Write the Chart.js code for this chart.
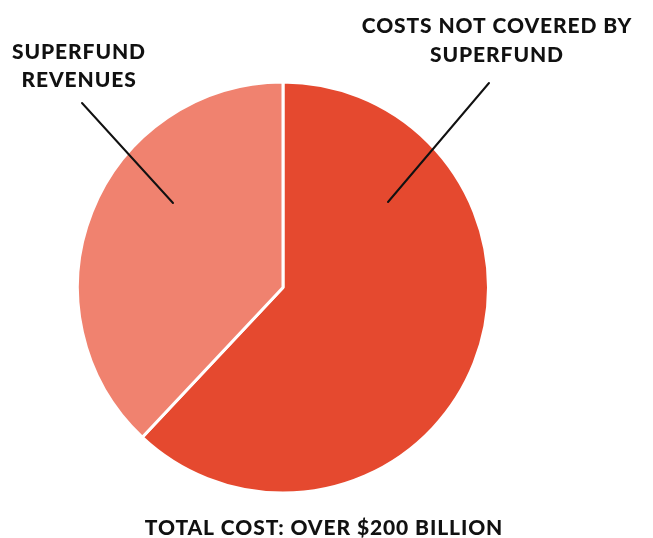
<!DOCTYPE html>
<html>
<head>
<meta charset="utf-8">
<script src="https://cdn.jsdelivr.net/npm/chart.js@4"></script>
<style>
    html, body { margin: 0; padding: 0; background: #ffffff; }
    #wrap { width: 653px; height: 538px; position: relative; }
</style>
</head>
<body>
<div id="wrap"><canvas id="pie"></canvas></div>
<script>
// share of total cost (percent)
const categories = ['Costs not covered by Superfund', 'Superfund revenues'];
const shares = [62, 38];
const sliceColors = ['#E5492F', '#F0826F'];

// annotation text
const leftLabel = ['SUPERFUND', 'REVENUES'];
const rightLabel = ['COSTS NOT COVERED BY', 'SUPERFUND'];
const footerText = 'TOTAL COST: OVER $200 BILLION';

const labelFont = '900 21px Lato, "Open Sans", sans-serif';
const inkColor = '#111111';

// leader lines + callout text drawn on top of the pie
const calloutPlugin = {
    id: 'callouts',
    afterDraw(chart) {
        const ctx = chart.ctx;
        ctx.save();
        ctx.fillStyle = inkColor;
        ctx.font = labelFont;
        ctx.letterSpacing = '0.9px';
        ctx.textAlign = 'center';
        ctx.textBaseline = 'alphabetic';

        leftLabel.forEach((line, i) => ctx.fillText(line, 79, 59 + i * 28));
        rightLabel.forEach((line, i) => ctx.fillText(line, 497, 33 + i * 29));
        ctx.fillText(footerText, 324, 535);

        ctx.strokeStyle = inkColor;
        ctx.lineWidth = 2;
        ctx.lineCap = 'round';
        ctx.beginPath();
        ctx.moveTo(82, 103);
        ctx.lineTo(173, 203);
        ctx.moveTo(489, 83);
        ctx.lineTo(388, 202);
        ctx.stroke();
        ctx.restore();
    }
};

const ctx = document.getElementById('pie').getContext('2d');
new Chart(ctx, {
    type: 'pie',
    data: {
        labels: categories,
        datasets: [{
            data: shares,
            backgroundColor: sliceColors,
            borderColor: '#ffffff',
            borderWidth: 3
        }]
    },
    options: {
        responsive: true,
        maintainAspectRatio: false,
        animation: false,
        rotation: 0,
        layout: {
            padding: { top: 80, bottom: 43, left: 76, right: 163 }
        },
        plugins: {
            legend: { display: false },
            tooltip: { enabled: false }
        }
    },
    plugins: [calloutPlugin]
});
</script>
</body>
</html>
